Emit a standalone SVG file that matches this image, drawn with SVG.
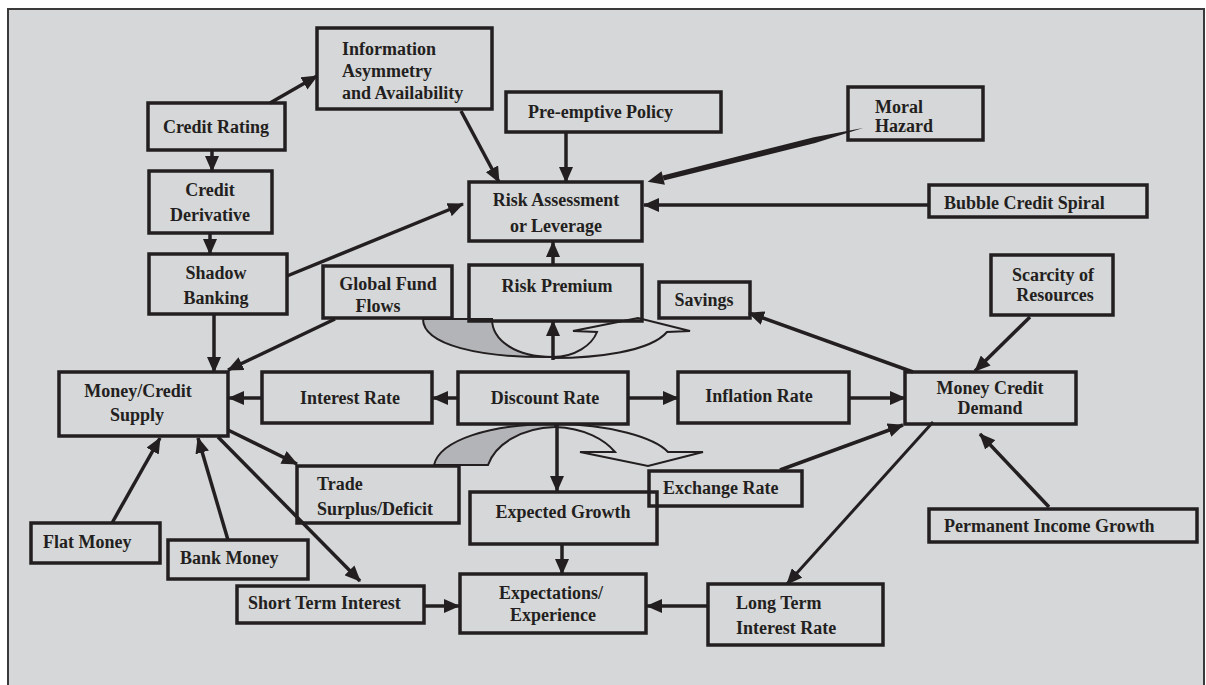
<svg xmlns="http://www.w3.org/2000/svg" width="1206" height="685" viewBox="0 0 1206 685">
<style>
.box{fill:none;stroke:#231f20;stroke-width:3.5}
.t{font-family:"Liberation Serif","Times New Roman",serif;font-weight:bold;font-size:18px;fill:#231f20}
.m{text-anchor:middle}
.c{stroke:#231f20;stroke-width:3.5;fill:none;marker-end:url(#ah)}
.cv{stroke:#231f20;stroke-width:2}
</style>
<defs>
<marker id="ah" markerUnits="userSpaceOnUse" markerWidth="16" markerHeight="14" refX="15" refY="7" orient="auto">
<path d="M0,0 L16,7 L0,14 Z" fill="#231f20"/>
</marker>
</defs>
<rect x="0" y="0" width="1206" height="685" fill="#ffffff"/>
<rect x="8" y="9" width="1196" height="700" fill="#d6d7d9" stroke="#3a3a3a" stroke-width="2"/>

<g id="curves">
<path class="cv" fill="#d6d7d9" d="M553,357 C575,357 592,345 597,332 L573,331 L638,318 L690,331 L667,332 C650,352 595,358 553,358 Z"/>
<path class="cv" fill="#b3b4b7" d="M423,319 L492,319 C492,340 515,357 553,357 C480,358 423,345 423,319 Z"/>
<path class="cv" fill="#d6d7d9" d="M555,424 C610,424 655,438 668,452 L703,452 L648,466 L580,452 L615,452 C605,440 585,428 555,427 Z"/>
<path class="cv" fill="#b3b4b7" d="M434,465 L488,465 C495,445 520,428 555,427 L555,424 C490,424 440,440 434,465 Z"/>
</g>

<g id="connectors">
<path class="c" d="M270,103 L317,76"/>
<path class="c" d="M212,150 L212,171"/>
<path class="c" d="M210,233 L210,254"/>
<path class="c" d="M461,111 L499,182"/>
<path class="c" d="M566,132 L566,182"/>
<polygon fill="#231f20" points="863,128 815.2,143 663.8,180.4 662.6,175.6 813.8,137.2"/>
<polygon fill="#231f20" points="647.7,181.8 664.9,184.8 661.5,171.2"/>
<path class="c" d="M929,205 L644,205"/>
<path class="c" d="M287,276 L463,204"/>
<path class="c" d="M553,265 L553,242"/>
<path class="c" d="M553,360 L553,321"/>
<path class="c" d="M214,314 L214,372"/>
<path class="c" d="M335,319 L228,370"/>
<path class="c" d="M262,398 L229,398"/>
<path class="c" d="M458,398 L433,398"/>
<path class="c" d="M628,398 L678,398"/>
<path class="c" d="M849,398 L905,398"/>
<path class="c" d="M913,372 L749,313"/>
<path class="c" d="M1030,317 L975,371"/>
<path class="c" d="M780,470 L903,425"/>
<path class="c" style="stroke-width:3" d="M933,422 L787,584"/>
<path class="c" d="M1049,507 L980,434"/>
<path class="c" d="M708,606 L647,606"/>
<path class="c" d="M424,606 L459,606"/>
<path class="c" d="M562,544 L562,574"/>
<path class="c" d="M557,424 L557,491"/>
<path class="c" d="M228,430 L297,464"/>
<path class="c" d="M218,437 L360,581"/>
<path class="c" d="M112,523 L160,438"/>
<path class="c" d="M228,540 L198,438"/>
</g>

<g id="n-info"><rect class="box" x="317" y="28" width="175" height="81"/>
<text class="t" x="342" y="55">Information</text><text class="t" x="342" y="77">Asymmetry</text><text class="t" x="342" y="99">and Availability</text></g>
<g id="n-credit-rating"><rect class="box" x="148" y="103" width="137" height="47"/>
<text class="t m" x="216" y="133">Credit Rating</text></g>
<g id="n-credit-derivative"><rect class="box" x="149" y="171" width="123" height="62"/>
<text class="t m" x="210" y="196">Credit</text><text class="t m" x="210" y="221">Derivative</text></g>
<g id="n-shadow"><rect class="box" x="149" y="254" width="138" height="60"/>
<text class="t m" x="216" y="279">Shadow</text><text class="t m" x="216" y="304">Banking</text></g>
<g id="n-global"><rect class="box" x="323" y="266" width="129" height="52"/>
<text class="t m" x="388" y="290">Global Fund</text><text class="t m" x="378" y="312">Flows</text></g>
<g id="n-risk-premium"><rect class="box" x="469" y="265" width="173" height="56"/>
<text class="t m" x="557" y="292">Risk Premium</text></g>
<g id="n-savings"><rect class="box" x="659" y="282" width="91" height="36"/>
<text class="t m" x="704" y="306">Savings</text></g>
<g id="n-risk-assessment"><rect class="box" x="469" y="182" width="173" height="59"/>
<text class="t m" x="556" y="206">Risk Assessment</text><text class="t m" x="556" y="232">or Leverage</text></g>
<g id="n-preemptive"><rect class="box" x="506" y="92" width="215" height="40"/>
<text class="t" x="528" y="118">Pre-emptive Policy</text></g>
<g id="n-moral"><rect class="box" x="848" y="87" width="135" height="53"/>
<text class="t" x="875" y="113">Moral</text><text class="t" x="875" y="132">Hazard</text></g>
<g id="n-bubble"><rect class="box" x="929" y="185" width="218" height="32"/>
<text class="t" x="944" y="209">Bubble Credit Spiral</text></g>
<g id="n-scarcity"><rect class="box" x="991" y="255" width="122" height="60"/>
<text class="t m" x="1053" y="281">Scarcity of</text><text class="t m" x="1055" y="301">Resources</text></g>
<g id="n-mcd"><rect class="box" x="905" y="372" width="171" height="52"/>
<text class="t m" x="990" y="394">Money Credit</text><text class="t m" x="990" y="414">Demand</text></g>
<g id="n-mcs"><rect class="box" x="59" y="372" width="169" height="64"/>
<text class="t m" x="138" y="397">Money/Credit</text><text class="t m" x="137" y="421">Supply</text></g>
<g id="n-interest"><rect class="box" x="262" y="372" width="170" height="51"/>
<text class="t m" x="350" y="404">Interest Rate</text></g>
<g id="n-discount"><rect class="box" x="458" y="372" width="170" height="52"/>
<text class="t m" x="545" y="404">Discount Rate</text></g>
<g id="n-inflation"><rect class="box" x="678" y="372" width="171" height="51"/>
<text class="t m" x="759" y="402">Inflation Rate</text></g>
<g id="n-trade"><rect class="box" x="297" y="466" width="162" height="57"/>
<text class="t" x="317" y="490">Trade</text><text class="t" x="317" y="515">Surplus/Deficit</text></g>
<g id="n-expected-growth"><rect class="box" x="470" y="492" width="187" height="52"/>
<text class="t m" x="563" y="518">Expected Growth</text></g>
<g id="n-exchange"><rect class="box" x="649" y="471" width="153" height="35"/>
<text class="t" x="663" y="494">Exchange Rate</text></g>
<g id="n-expectations"><rect class="box" x="460" y="574" width="186" height="59"/>
<text class="t m" x="551" y="599">Expectations/</text><text class="t m" x="553" y="621">Experience</text></g>
<g id="n-long-term"><rect class="box" x="708" y="584" width="175" height="61"/>
<text class="t" x="736" y="609">Long Term</text><text class="t" x="736" y="634">Interest Rate</text></g>
<g id="n-permanent"><rect class="box" x="929" y="509" width="268" height="33"/>
<text class="t" x="944" y="532">Permanent Income Growth</text></g>
<g id="n-flat"><rect class="box" x="31" y="523" width="129" height="40"/>
<text class="t" x="43" y="548">Flat Money</text></g>
<g id="n-bank"><rect class="box" x="168" y="540" width="140" height="39"/>
<text class="t" x="180" y="564">Bank Money</text></g>
<g id="n-short-term"><rect class="box" x="237" y="586" width="187" height="37"/>
<text class="t" x="248" y="609">Short Term Interest</text></g>
</svg>
